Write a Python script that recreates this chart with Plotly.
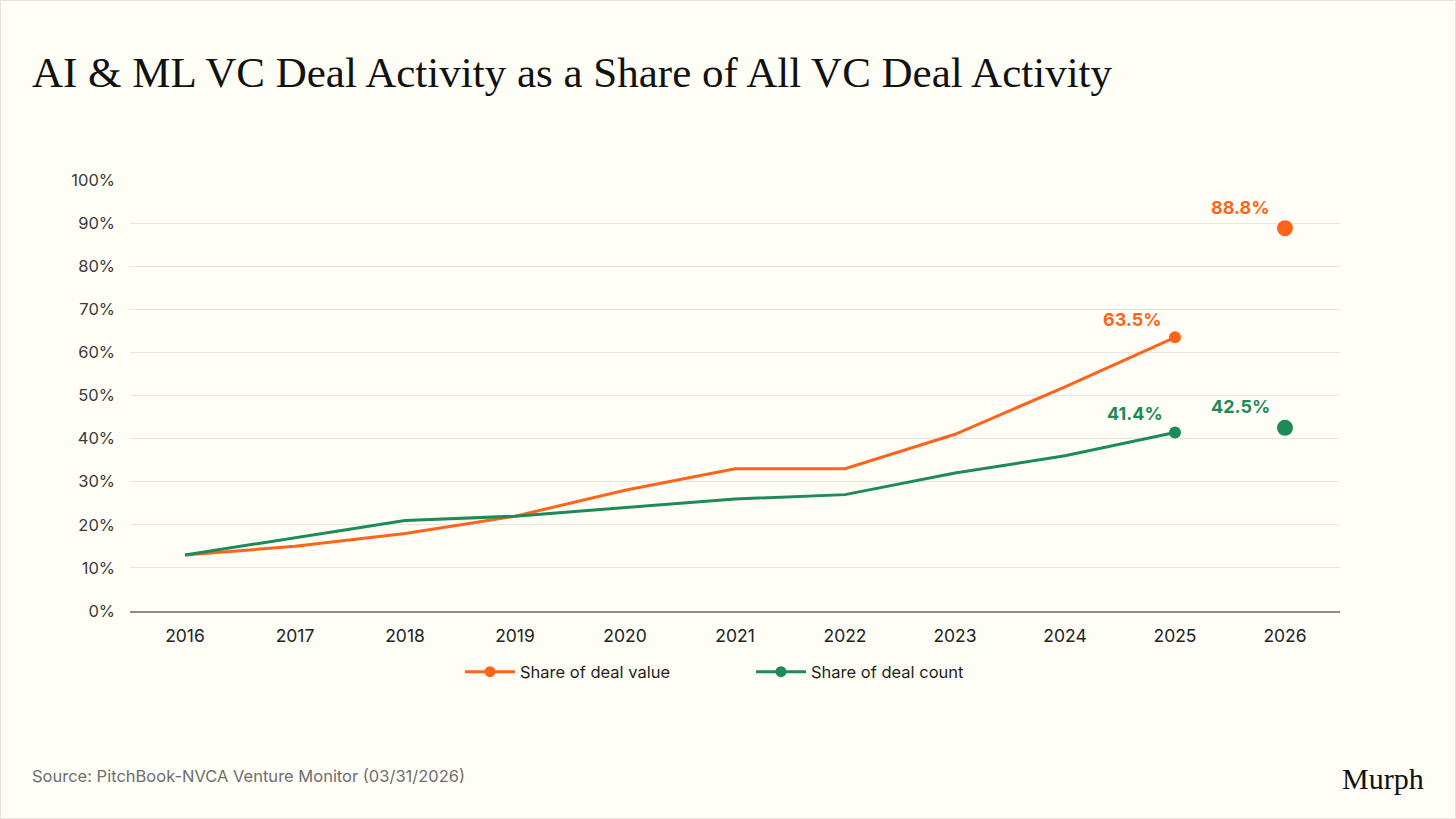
import plotly.graph_objects as go

years = [2016, 2017, 2018, 2019, 2020, 2021, 2022, 2023, 2024, 2025]
deal_value = [13, 15, 18, 22, 28, 33, 33, 41, 52, 63.5]
deal_count = [13, 17, 21, 22, 24, 26, 27, 32, 36, 41.4]

year_2026 = [2026]
value_2026 = [88.8]
count_2026 = [42.5]

x_ticks = list(range(2016, 2027))
y_ticks = list(range(0, 101, 10))

ORANGE = "#FF641A"
GREEN = "#1E8A57"
BG = "#FEFEF6"
SANS = "Inter"

fig = go.Figure()

# main lines, end marker only at 2025
fig.add_trace(go.Scatter(x=years, y=deal_value, mode="lines", line=dict(color=ORANGE, width=3),
                         showlegend=False, hoverinfo="skip"))
fig.add_trace(go.Scatter(x=years, y=deal_count, mode="lines", line=dict(color=GREEN, width=3),
                         showlegend=False, hoverinfo="skip"))
fig.add_trace(go.Scatter(x=years[-1:], y=deal_value[-1:], mode="markers",
                         marker=dict(color=ORANGE, size=12), showlegend=False))
fig.add_trace(go.Scatter(x=years[-1:], y=deal_count[-1:], mode="markers",
                         marker=dict(color=GREEN, size=12), showlegend=False))
fig.add_trace(go.Scatter(x=year_2026, y=value_2026, mode="markers",
                         marker=dict(color=ORANGE, size=16), showlegend=False))
fig.add_trace(go.Scatter(x=year_2026, y=count_2026, mode="markers",
                         marker=dict(color=GREEN, size=16), showlegend=False))

# legend entries
fig.add_trace(go.Scatter(x=[None], y=[None], mode="lines+markers", name="Share of deal value",
                         line=dict(color=ORANGE, width=3), marker=dict(color=ORANGE, size=11)))
fig.add_trace(go.Scatter(x=[None], y=[None], mode="lines+markers", name="Share of deal count",
                         line=dict(color=GREEN, width=3), marker=dict(color=GREEN, size=11)))

labels = [
    (years[-1], deal_value[-1], ORANGE, -43, 18),
    (years[-1], deal_count[-1], GREEN, -40, 19),
    (year_2026[0], value_2026[0], ORANGE, -45, 21),
    (year_2026[0], count_2026[0], GREEN, -45, 21),
]
for x, y, c, dx, dy in labels:
    fig.add_annotation(x=x, y=y, text=f"<b>{y:.1f}%</b>", showarrow=False,
                       xshift=dx, yshift=dy, font=dict(family=SANS, size=18, color=c))

fig.add_annotation(xref="paper", yref="paper", x=-100 / 1210, y=-165 / 431, xanchor="left",
                   yanchor="middle", text="Source: PitchBook-NVCA Venture Monitor (03/31/2026)",
                   showarrow=False, font=dict(family=SANS, size=16.5, color="#6E6E6E"))
fig.add_annotation(xref="paper", yref="paper", x=1 + 86 / 1210, y=-167 / 431, xanchor="right",
                   yanchor="middle", text="Murph", showarrow=False,
                   font=dict(family="Liberation Serif", size=30, color="#111111"))

fig.add_shape(type="rect", xref="paper", yref="paper",
              x0=-130 / 1210, x1=1 + 116 / 1210, y0=-208 / 431, y1=1 + 180 / 431,
              line=dict(color="#E4E4DA", width=2), fillcolor="rgba(0,0,0,0)", layer="above")

fig.update_layout(
    width=1456, height=819,
    paper_bgcolor=BG, plot_bgcolor=BG,
    margin=dict(l=130, r=116, t=180, b=208),
    title=dict(text="AI & ML VC Deal Activity as a Share of All VC Deal Activity",
               xref="container", yref="container", x=32 / 1456, y=1 - 72 / 819,
               xanchor="left", yanchor="middle",
               font=dict(family="Liberation Serif", size=43, color="#111111")),
    font=dict(family=SANS, size=16, color="#333333"),
    legend=dict(orientation="h", x=0.5 + 16 / 1210, xanchor="center", y=-61 / 431,
                yanchor="middle", font=dict(family=SANS, size=16.5, color="#1E1E1E"),
                entrywidth=226, itemwidth=50, bgcolor="rgba(0,0,0,0)"),
    xaxis=dict(range=[2015.5, 2026.5], tickvals=x_ticks, ticktext=[str(t) for t in x_ticks],
               showgrid=False, zeroline=False, showline=True, linecolor="#8C8C8C", linewidth=2,
               ticks="", ticklabelstandoff=8, tickfont=dict(size=17.5, color="#222222")),
    yaxis=dict(range=[0, 100], tickvals=y_ticks, ticktext=[f"{t}%" for t in y_ticks],
               showgrid=True, gridcolor="#E6E6DE", gridwidth=1, zeroline=False,
               ticks="", ticklabelstandoff=14, tickfont=dict(size=16.5, color="#3A3A3A")),
    showlegend=True,
)

fig.write_html("out.html", config={"displayModeBar": False},
               post_script="document.body.style.margin='0';")
